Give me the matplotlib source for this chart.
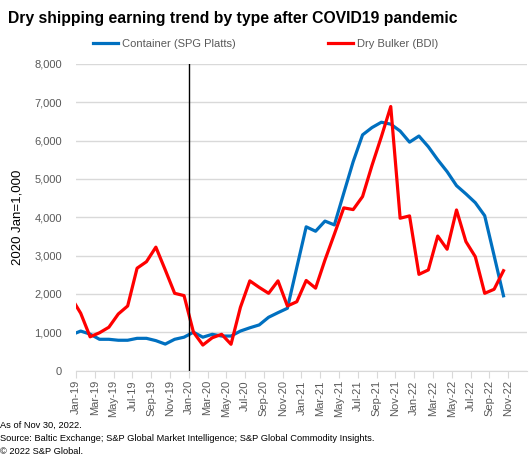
import numpy as np
import matplotlib.pyplot as plt

plt.rcParams['font.family'] = ['Liberation Sans', 'DejaVu Sans']

# months Dec-18 .. Oct-22 (Dec-18 sits left of the axis and gets clipped)
months = ['Dec-18',
          'Jan-19', 'Feb-19', 'Mar-19', 'Apr-19', 'May-19', 'Jun-19', 'Jul-19', 'Aug-19', 'Sep-19', 'Oct-19', 'Nov-19', 'Dec-19',
          'Jan-20', 'Feb-20', 'Mar-20', 'Apr-20', 'May-20', 'Jun-20', 'Jul-20', 'Aug-20', 'Sep-20', 'Oct-20', 'Nov-20', 'Dec-20',
          'Jan-21', 'Feb-21', 'Mar-21', 'Apr-21', 'May-21', 'Jun-21', 'Jul-21', 'Aug-21', 'Sep-21', 'Oct-21', 'Nov-21', 'Dec-21',
          'Jan-22', 'Feb-22', 'Mar-22', 'Apr-22', 'May-22', 'Jun-22', 'Jul-22', 'Aug-22', 'Sep-22', 'Oct-22']

container = [930,
             1030, 950, 815, 815, 790, 790, 840, 840, 780, 690, 815, 870,
             1000, 870, 945, 900, 900, 1030, 1115, 1190, 1390, 1510, 1625, 2690,
             3750, 3635, 3900, 3800, 4630, 5450, 6150, 6340, 6480, 6430, 6250, 5960,
             6120, 5840, 5500, 5190, 4825, 4610, 4380, 4040, 3000, 1950]

dry_bulker = [1900,
              1495, 880, 985, 1130, 1475, 1685, 2670, 2840, 3220, 2625, 2015, 1955,
              1000, 665, 855, 945, 685, 1650, 2340, 2170, 2015, 2340, 1685, 1795,
              2350, 2150, 2885, 3560, 4245, 4200, 4540, 5350, 6100, 6890, 3975, 4035,
              2510, 2625, 3510, 3165, 4190, 3365, 2970, 2015, 2120, 2605]

axis_labels = ['Jan-19', 'Mar-19', 'May-19', 'Jul-19', 'Sep-19', 'Nov-19',
               'Jan-20', 'Mar-20', 'May-20', 'Jul-20', 'Sep-20', 'Nov-20',
               'Jan-21', 'Mar-21', 'May-21', 'Jul-21', 'Sep-21', 'Nov-21',
               'Jan-22', 'Mar-22', 'May-22', 'Jul-22', 'Sep-22', 'Nov-22']

x = np.arange(len(months)) - 1  # Jan-19 = 0

fig = plt.figure(figsize=(5.3, 4.58), dpi=100)
ax = fig.add_axes([0.1434, 0.191, 0.8509, 0.6693])

ax.plot(x, container, color='#0070C0', lw=2.3, label='Container (SPG Platts)', solid_joinstyle='round')
ax.plot(x, dry_bulker, color='#FF0000', lw=2.3, label='Dry Bulker (BDI)', solid_joinstyle='round')

# COVID marker between Dec-19 and Jan-20
ax.axvline(11.5, color='black', lw=1)

ax.set_xlim(-0.5, 47.5)
ax.set_ylim(0, 8000)
ax.set_yticks(range(0, 8001, 1000))
ax.set_yticklabels([f'{v:,}' for v in range(0, 8001, 1000)])
ax.set_xticks(np.arange(0, 48, 2) - 0.5)
ax.set_xticklabels(axis_labels, rotation=90)

ax.grid(axis='y', color='#D9D9D9', lw=1)
ax.set_axisbelow(True)
for s in ['top', 'right', 'left']:
    ax.spines[s].set_visible(False)
ax.spines['bottom'].set_color('#D9D9D9')
ax.tick_params(axis='y', length=0, labelsize=8, labelcolor='#595959', pad=10)
ax.tick_params(axis='x', length=5, color='#D9D9D9', labelsize=8, labelcolor='#595959', pad=2)

ax.set_ylabel('2020 Jan=1,000', fontsize=9.5, labelpad=8)

fig.text(0.015, 0.96, 'Dry shipping earning trend by type after COVID19 pandemic',
         fontsize=11.3, fontweight='bold', va='center', ha='left')

leg = ax.legend(loc='center', bbox_to_anchor=(0.42, 1.065), ncol=2, frameon=False,
                fontsize=8, handlelength=2.3, columnspacing=8.3, handletextpad=0.3)
for t in leg.get_texts():
    t.set_color('#595959')

fig.text(0.0, 0.072, 'As of Nov 30, 2022.', fontsize=6.7, va='center')
fig.text(0.0, 0.043, 'Source: Baltic Exchange; S&P Global Market Intelligence; S&P Global Commodity Insights.',
         fontsize=6.7, va='center')
fig.text(0.0, 0.014, '\u00a9 2022 S&P Global.', fontsize=6.7, va='center')

fig.savefig('out.png', dpi=100)
